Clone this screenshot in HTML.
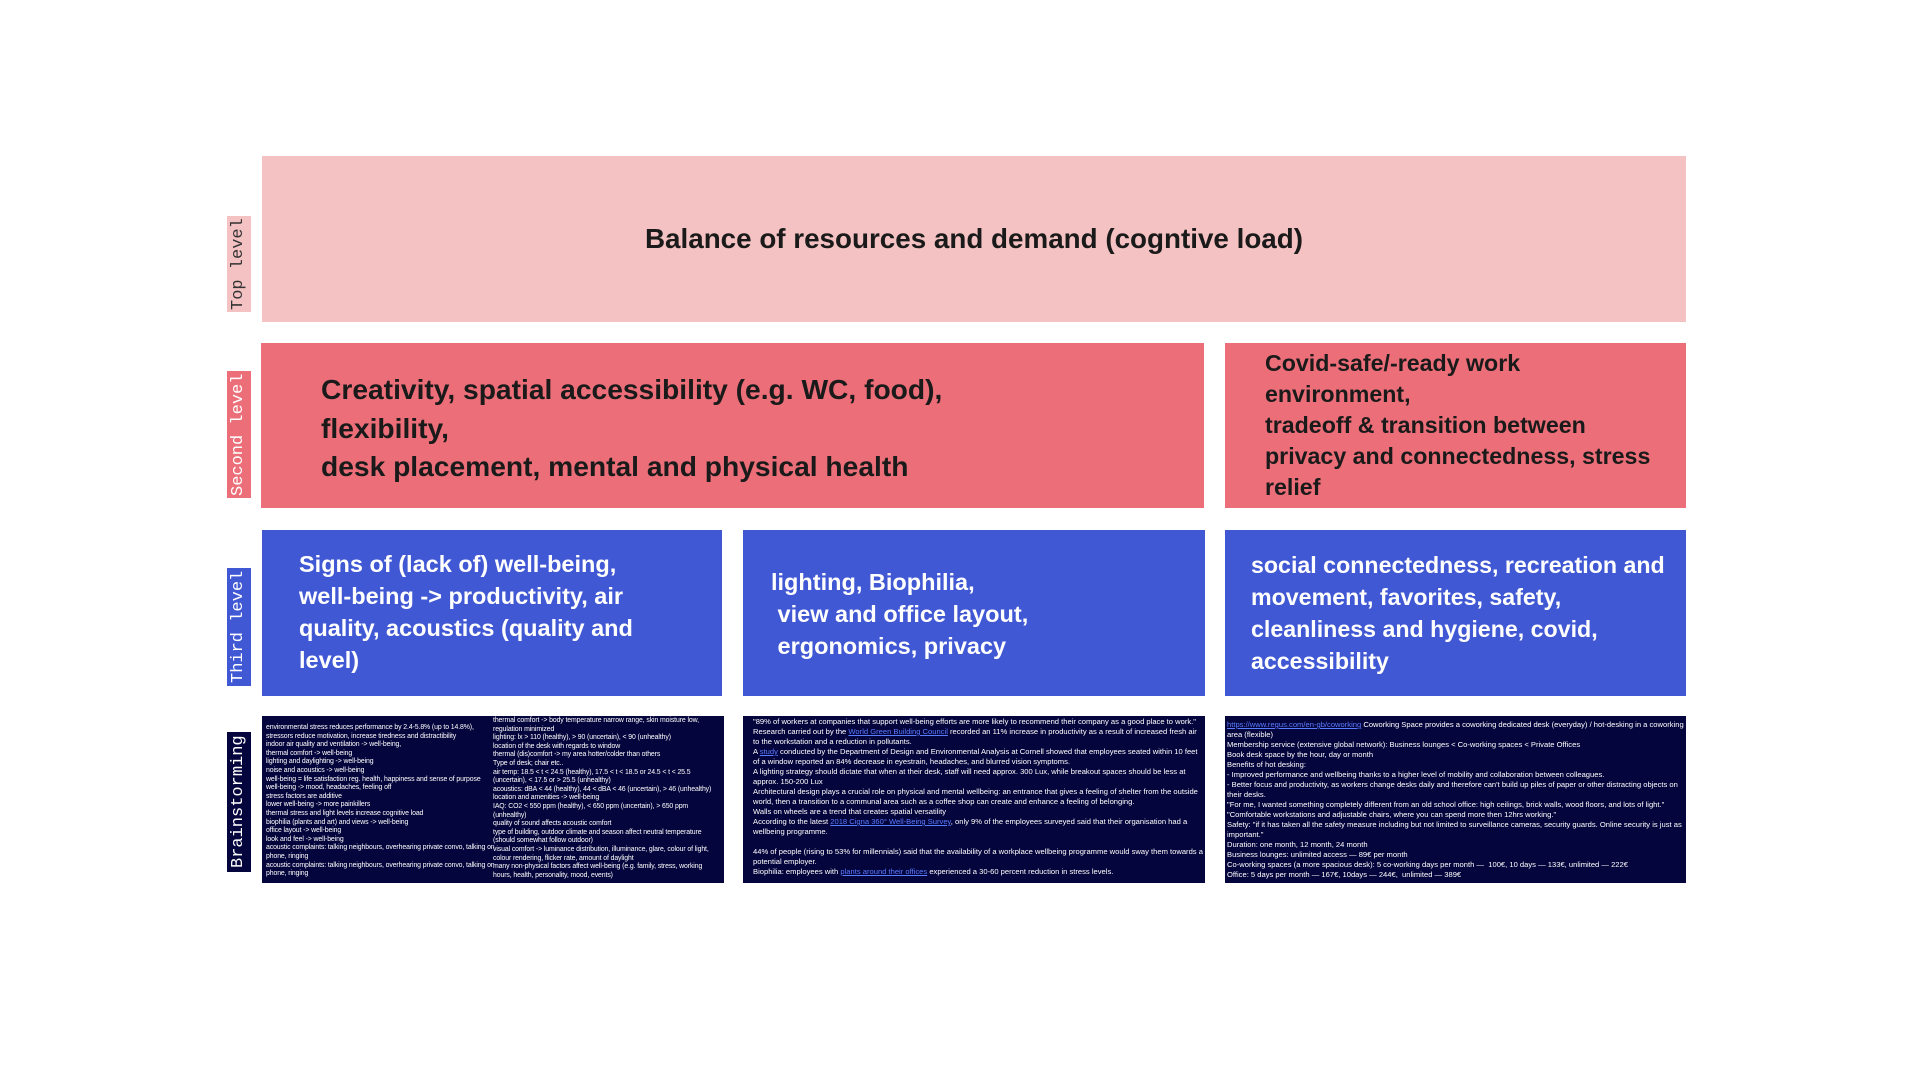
<!DOCTYPE html>
<html><head><meta charset="utf-8"><style>
body{margin:0;width:1920px;height:1080px;background:#fff;position:relative;overflow:hidden;font-family:"Liberation Sans",sans-serif}
.b{position:absolute;box-sizing:border-box}
.t1{background:#f4c2c2}.t2{background:#eb6e78}.t3{background:#4158d4;color:#fff}.t4{background:#05053d;color:#fff}
.lab{position:absolute;left:227px;width:24px;font-family:"Liberation Mono",monospace;font-size:17px;writing-mode:vertical-rl;transform:rotate(180deg);text-align:center;line-height:24px;white-space:nowrap}
.bold{font-weight:bold;color:#1a1a1a}
.w{font-weight:bold;color:#fff}
.s{font-size:7.6px;line-height:10px;color:#fff;white-space:pre-wrap}
.s2{font-size:6.9px;line-height:8.6px;color:#fff;white-space:pre-wrap;letter-spacing:-0.1px}
a{color:#5a7cff;text-decoration:underline}
</style></head><body>
<div class="b t1" style="left:262px;top:156px;width:1424px;height:166px"></div>
<div class="b bold" style="left:262px;top:223px;width:1424px;text-align:center;font-size:27.8px">Balance of resources and demand (cogntive load)</div>
<div class="lab t1" style="top:216px;height:96px;color:#333">Top level</div>

<div class="b t2" style="left:261px;top:343px;width:943px;height:165px"></div>
<div class="b t2" style="left:1225px;top:343px;width:461px;height:165px"></div>
<div class="b bold" style="left:321px;top:370px;font-size:28.2px;line-height:38.5px">Creativity, spatial accessibility (e.g. WC, food),<br>flexibility,<br>desk placement, mental and physical health</div>
<div class="b bold" style="left:1265px;top:348px;font-size:23.2px;line-height:31px">Covid-safe/-ready work<br>environment,<br>tradeoff &amp; transition between<br>privacy and connectedness, stress<br>relief</div>
<div class="lab t2" style="top:371px;height:127px;color:#fff">Second level</div>

<div class="b t3" style="left:262px;top:530px;width:460px;height:166px"></div>
<div class="b t3" style="left:743px;top:530px;width:462px;height:166px"></div>
<div class="b t3" style="left:1225px;top:530px;width:461px;height:166px"></div>
<div class="b w" style="left:299px;top:548px;font-size:23.5px;line-height:32px">Signs of (lack of) well-being,<br>well-being -&gt; productivity, air<br>quality, acoustics (quality and<br>level)</div>
<div class="b w" style="left:771px;top:566px;font-size:23.5px;line-height:32px">lighting, Biophilia,<br>&nbsp;view and office layout,<br>&nbsp;ergonomics, privacy</div>
<div class="b w" style="left:1251px;top:549px;font-size:23.2px;line-height:32px">social connectedness, recreation and<br>movement, favorites, safety,<br>cleanliness and hygiene, covid,<br>accessibility</div>
<div class="lab t3" style="top:568px;height:118px;color:#fff">Third level</div>

<div class="b t4" style="left:262px;top:716px;width:462px;height:167px;overflow:hidden">
<div class="b s2" style="left:4px;top:8px;width:229px">environmental stress reduces performance by 2.4-5.8% (up to 14.8%),
stressors reduce motivation, increase tiredness and distractibility
indoor air quality and ventilation -&gt; well-being,
thermal comfort -&gt; well-being
lighting and daylighting -&gt; well-being
noise and acoustics -&gt; well-being
well-being = life satisfaction reg. health, happiness and sense of purpose
well-being -&gt; mood, headaches, feeling off
stress factors are additive
lower well-being -&gt; more painkillers
thermal stress and light levels increase cognitive load
biophilia (plants and art) and views -&gt; well-being
office layout -&gt; well-being
look and feel -&gt; well-being
acoustic complaints: talking neighbours, overhearing private convo, talking on phone, ringing
acoustic complaints: talking neighbours, overhearing private convo, talking on phone, ringing</div>
<div class="b s2" style="left:231px;top:1px;width:229px">thermal comfort -&gt; body temperature narrow range, skin moisture low, regulation minimized
lighting: lx &gt; 110 (healthy), &gt; 90 (uncertain), &lt; 90 (unhealthy)
location of the desk with regards to window
thermal (dis)comfort -&gt; my area hotter/colder than others
Type of desk; chair etc..
air temp: 18.5 &lt; t &lt; 24.5 (healthy), 17.5 &lt; t &lt; 18.5 or 24.5 &lt; t &lt; 25.5 (uncertain), &lt; 17.5 or &gt; 25.5 (unhealthy)
acoustics: dBA &lt; 44 (healthy), 44 &lt; dBA &lt; 46 (uncertain), &gt; 46 (unhealthy)
location and amenities -&gt; well-being
IAQ: CO2 &lt; 550 ppm (healthy), &lt; 650 ppm (uncertain), &gt; 650 ppm (unhealthy)
quality of sound affects acoustic comfort
type of building, outdoor climate and season affect neutral temperature (should somewhat follow outdoor)
visual comfort -&gt; luminance distribution, illuminance, glare, colour of light, colour rendering, flicker rate, amount of daylight
many non-physical factors affect well-being (e.g. family, stress, working hours, health, personality, mood, events)</div>
</div>
<div class="b t4" style="left:743px;top:716px;width:462px;height:167px"></div>
<div class="b t4" style="left:1225px;top:716px;width:461px;height:167px"></div>
<div class="lab t4" style="top:732px;height:140px;color:#fff">Brainstorming</div>

<div class="b s" style="left:753px;top:717px;width:450px">"89% of workers at companies that support well-being efforts are more likely to recommend their company as a good place to work."
Research carried out by the <a>World Green Building Council</a> recorded an 11% increase in productivity as a result of increased fresh air to the workstation and a reduction in pollutants.
A <a>study</a> conducted by the Department of Design and Environmental Analysis at Cornell showed that employees seated within 10 feet of a window reported an 84% decrease in eyestrain, headaches, and blurred vision symptoms.
A lighting strategy should dictate that when at their desk, staff will need approx. 300 Lux, while breakout spaces should be less at approx. 150-200 Lux
Architectural design plays a crucial role on physical and mental wellbeing: an entrance that gives a feeling of shelter from the outside world, then a transition to a communal area such as a coffee shop can create and enhance a feeling of belonging.
Walls on wheels are a trend that creates spatial versatility
According to the latest <a>2018 Cigna 360° Well-Being Survey</a>, only 9% of the employees surveyed said that their organisation had a wellbeing programme.

44% of people (rising to 53% for millennials) said that the availability of a workplace wellbeing programme would sway them towards a potential employer.
Biophilia: employees with <a>plants around their offices</a> experienced a 30-60 percent reduction in stress levels.</div>

<div class="b s" style="left:1227px;top:720px;width:457px"><a>https://www.regus.com/en-gb/coworking</a> Coworking Space provides a coworking dedicated desk (everyday) / hot-desking in a coworking area (flexible)
Membership service (extensive global network): Business lounges &lt; Co-working spaces &lt; Private Offices
Book desk space by the hour, day or month
Benefits of hot desking:
- Improved performance and wellbeing thanks to a higher level of mobility and collaboration between colleagues.
- Better focus and productivity, as workers change desks daily and therefore can't build up piles of paper or other distracting objects on their desks.
"For me, I wanted something completely different from an old school office: high ceilings, brick walls, wood floors, and lots of light."
"Comfortable workstations and adjustable chairs, where you can spend more then 12hrs working."
Safety: "if it has taken all the safety measure including but not limited to surveillance cameras, security guards. Online security is just as important."
Duration: one month, 12 month, 24 month
Business lounges: unlimited access — 89€ per month
Co-working spaces (a more spacious desk): 5 co-working days per month —  100€, 10 days — 133€, unlimited — 222€
Office: 5 days per month — 167€, 10days — 244€,  unlimited — 389€</div>
</body></html>
